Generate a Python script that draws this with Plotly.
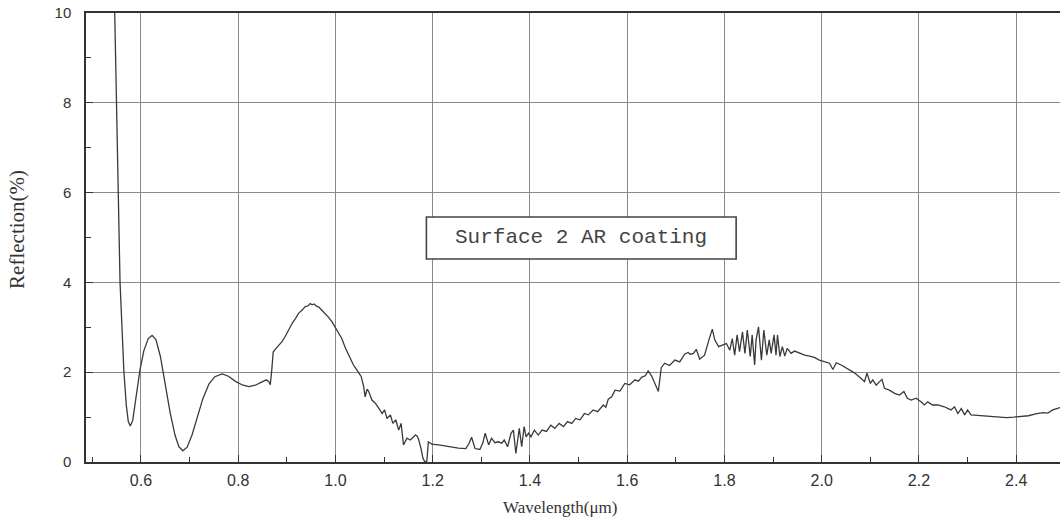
import plotly.graph_objects as go

wavelength_um = [
    0.545, 0.548, 0.551, 0.554, 0.557, 0.561, 0.565, 0.570, 0.574, 0.578,
    0.583, 0.590, 0.598, 0.606, 0.615, 0.623, 0.631, 0.640, 0.650, 0.660,
    0.670, 0.678, 0.686, 0.695, 0.705, 0.715, 0.727, 0.740, 0.752, 0.767,
    0.780, 0.795, 0.810, 0.822, 0.835, 0.848, 0.858, 0.863, 0.866, 0.869,
    0.872, 0.877, 0.883, 0.890, 0.897, 0.904, 0.911, 0.918, 0.924, 0.931,
    0.938, 0.944, 0.948, 0.952, 0.956, 0.961, 0.966, 0.972, 0.979, 0.986,
    0.993, 1.000, 1.007, 1.013, 1.020, 1.026, 1.031, 1.037, 1.044, 1.050,
    1.053, 1.058, 1.061, 1.065, 1.068, 1.075, 1.082, 1.089, 1.096, 1.101,
    1.106, 1.113, 1.118, 1.124, 1.130, 1.135, 1.140, 1.147, 1.154, 1.160,
    1.164, 1.168, 1.171, 1.176, 1.180, 1.184, 1.188, 1.191, 1.195, 1.198,
    1.212, 1.232, 1.245, 1.253, 1.268, 1.274, 1.280, 1.287, 1.297, 1.303, 1.308,
    1.315, 1.321, 1.328, 1.335, 1.342, 1.347, 1.354, 1.361, 1.366, 1.371,
    1.378, 1.383, 1.388, 1.392, 1.397, 1.402, 1.409, 1.417, 1.425, 1.434,
    1.443, 1.451, 1.460, 1.469, 1.477, 1.486, 1.494, 1.503, 1.512, 1.520,
    1.530, 1.539, 1.551, 1.556, 1.561, 1.568, 1.575, 1.585, 1.595, 1.605,
    1.616, 1.623, 1.630, 1.637, 1.643, 1.650, 1.658, 1.664, 1.670, 1.677,
    1.687, 1.698, 1.708, 1.718, 1.725, 1.730, 1.736, 1.742, 1.749, 1.759,
    1.768, 1.775, 1.780, 1.788, 1.797, 1.804, 1.811, 1.816, 1.821, 1.826,
    1.831, 1.837, 1.842, 1.847, 1.853, 1.857, 1.862, 1.865, 1.870, 1.876,
    1.881, 1.887, 1.892, 1.896, 1.902, 1.906, 1.909, 1.914, 1.919, 1.924,
    1.929, 1.937, 1.944, 1.954, 1.965, 1.975, 1.985, 1.995, 2.006, 2.016,
    2.023, 2.030, 2.040, 2.054, 2.068, 2.081, 2.088, 2.093, 2.100, 2.105,
    2.112, 2.119, 2.124, 2.129, 2.139, 2.150, 2.160, 2.169, 2.176, 2.184,
    2.194, 2.204, 2.211, 2.218, 2.228, 2.239, 2.252, 2.266, 2.273, 2.280,
    2.287, 2.294, 2.300, 2.307, 2.320, 2.335, 2.350, 2.365, 2.380, 2.395,
    2.410, 2.425, 2.440, 2.455, 2.465, 2.475, 2.490,
]

reflection_pct = [
    10.6, 9.0, 7.0, 5.2, 4.0, 3.0, 2.0, 1.25, 0.90, 0.80,
    0.92, 1.45, 2.05, 2.48, 2.75, 2.82, 2.72, 2.35, 1.75, 1.10,
    0.60, 0.34, 0.25, 0.33, 0.60, 0.98, 1.40, 1.74, 1.90, 1.96,
    1.91, 1.79, 1.71, 1.68, 1.71, 1.78, 1.83, 1.79, 1.72, 2.05,
    2.45, 2.52, 2.60, 2.68, 2.80, 2.95, 3.09, 3.20, 3.31, 3.38,
    3.46, 3.48, 3.53, 3.50, 3.52, 3.47, 3.45, 3.38, 3.31, 3.22,
    3.12, 3.00, 2.88, 2.75, 2.55, 2.42, 2.31, 2.16, 2.05, 1.95,
    1.90, 1.68, 1.45, 1.62, 1.58, 1.38, 1.31, 1.20, 1.08, 1.16,
    0.97, 1.05, 0.86, 0.94, 0.71, 0.86, 0.38, 0.53, 0.49, 0.55,
    0.60, 0.58, 0.50, 0.30, 0.08, 0.00, 0.02, 0.45, 0.42, 0.40,
    0.38, 0.34, 0.33, 0.31, 0.30, 0.40, 0.55, 0.30, 0.28, 0.42, 0.64,
    0.38, 0.53, 0.43, 0.45, 0.42, 0.49, 0.34, 0.64, 0.71, 0.19,
    0.75, 0.34, 0.79, 0.56, 0.64, 0.56, 0.71, 0.60, 0.71, 0.68,
    0.82, 0.75, 0.86, 0.79, 0.90, 0.86, 0.97, 0.94, 1.08, 1.05,
    1.16, 1.12, 1.27, 1.22, 1.40, 1.45, 1.60, 1.58, 1.75, 1.72,
    1.83, 1.80, 1.89, 1.92, 2.03, 1.92, 1.72, 1.57, 2.10, 2.20,
    2.15, 2.27, 2.23, 2.40, 2.44, 2.40, 2.42, 2.51, 2.29, 2.38,
    2.72, 2.96, 2.72, 2.57, 2.61, 2.64, 2.49, 2.75, 2.38, 2.83,
    2.46, 2.90, 2.42, 2.94, 2.35, 2.83, 2.16, 2.72, 3.01, 2.27,
    2.94, 2.38, 2.72, 2.42, 2.83, 2.38, 2.83, 2.35, 2.57, 2.36,
    2.53, 2.42, 2.47, 2.42, 2.38, 2.36, 2.33, 2.27, 2.23, 2.20,
    2.06, 2.21, 2.16, 2.06, 1.98, 1.86, 1.79, 1.98, 1.75, 1.83,
    1.71, 1.79, 1.84, 1.64, 1.60, 1.53, 1.49, 1.57, 1.42, 1.38,
    1.42, 1.34, 1.27, 1.34, 1.27, 1.27, 1.23, 1.16, 1.23, 1.08,
    1.19, 1.05, 1.16, 1.05, 1.04, 1.02, 1.01, 1.00, 0.99, 1.00,
    1.01, 1.03, 1.07, 1.10, 1.09, 1.16, 1.21,
]

x_major_ticks = [0.6, 0.8, 1.0, 1.2, 1.4, 1.6, 1.8, 2.0, 2.2, 2.4]
x_tick_labels = ["0.6", "0.8", "1.0", "1.2", "1.4", "1.6", "1.8", "2.0", "2.2", "2.4"]
y_major_ticks = [0, 2, 4, 6, 8, 10]
y_tick_labels = ["0", "2", "4", "6", "8", "10"]

label_text = "Surface 2 AR coating"
x_title = "Wavelength(μm)"
y_title = "Reflection(%)"

fig = go.Figure()
fig.add_trace(go.Scatter(
    x=wavelength_um, y=reflection_pct, mode="lines",
    line=dict(color="#3a3a3a", width=1.3), showlegend=False,
    hoverinfo="skip",
))

axis_common = dict(
    showline=True, linecolor="#333333", linewidth=1.5,
    showgrid=True, gridcolor="#8a8a8a", gridwidth=1,
    ticks="inside", ticklen=7, tickcolor="#333333", tickwidth=1.2,
    zeroline=False,
)

fig.update_xaxes(
    range=[0.487, 2.49], tickvals=x_major_ticks, ticktext=x_tick_labels,
    mirror=True, ticklabelstandoff=3,
    tickfont=dict(family="Liberation Sans, Arial, sans-serif", size=16, color="#333333"),
    minor=dict(dtick=0.1, tick0=0.5, ticks="inside", ticklen=5,
               tickcolor="#333333", showgrid=False),
    **axis_common,
)
fig.update_yaxes(
    range=[0, 10], tickvals=y_major_ticks, ticktext=y_tick_labels,
    tickfont=dict(family="Liberation Sans, Arial, sans-serif", size=15, color="#333333"),
    minor=dict(dtick=1, tick0=1, ticks="inside", ticklen=5,
               tickcolor="#333333", showgrid=False),
    ticklabelstandoff=10,
    **axis_common,
)

fig.add_shape(
    type="rect", xref="x", yref="y",
    x0=1.187, x1=1.824, y0=4.52, y1=5.456,
    line=dict(color="#444444", width=1.6), fillcolor="white", layer="above",
)
fig.add_annotation(
    x=1.505, y=4.99, xref="x", yref="y", text=label_text, showarrow=False,
    font=dict(family="Liberation Mono, Courier New, monospace", size=21, color="#444444"),
    xanchor="center", yanchor="middle",
)
fig.add_annotation(
    x=0.4867, y=-0.1024, xref="paper", yref="paper", text=x_title, showarrow=False,
    font=dict(family="Liberation Serif, Times New Roman, serif", size=17, color="#333333"),
    xanchor="center", yanchor="middle",
)
fig.add_annotation(
    x=-0.0708, y=0.517, xref="paper", yref="paper", text=y_title, showarrow=False,
    textangle=-90,
    font=dict(family="Liberation Serif, Times New Roman, serif", size=21, color="#333333"),
    xanchor="center", yanchor="middle",
)

fig.update_layout(
    width=1060, height=521,
    margin=dict(l=86, r=0, t=13, b=59),
    paper_bgcolor="white", plot_bgcolor="white",
)

fig.write_html(
    "out.html",
    config={"displayModeBar": False},
    post_script="document.body.style.margin='0px';document.body.style.overflow='hidden';",
)
